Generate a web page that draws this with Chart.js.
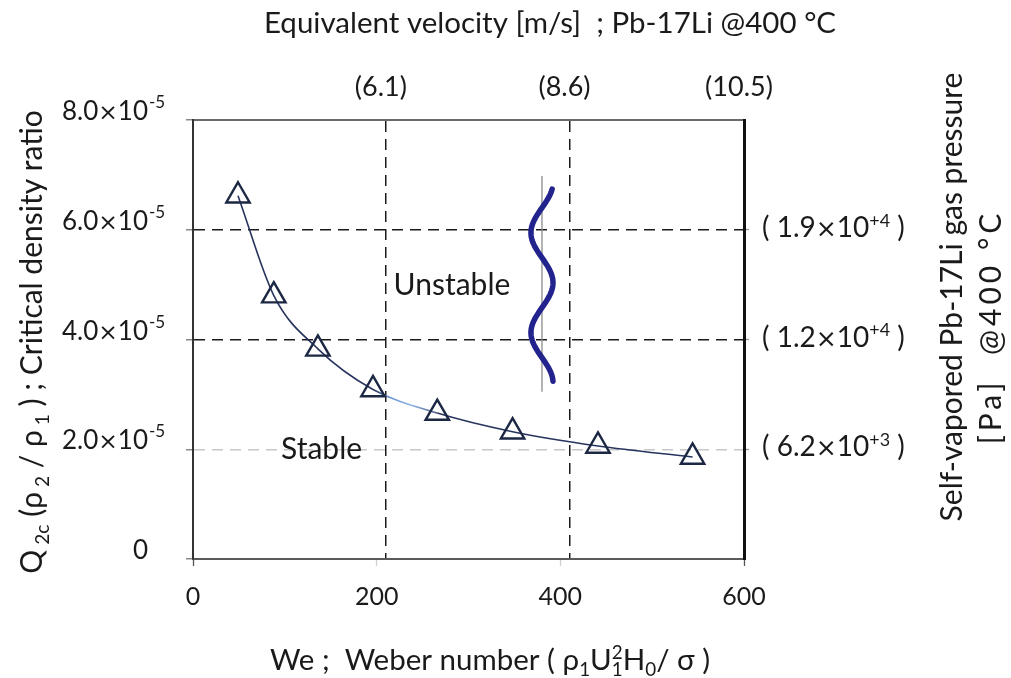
<!DOCTYPE html>
<html><head><meta charset="utf-8">
<script src="https://cdn.jsdelivr.net/npm/chart.js@4.4.0/dist/chart.umd.min.js"></script>
<style>html,body{margin:0;padding:0;background:#fff;overflow:hidden}#wrap{width:1011px;height:678px;position:relative}</style>
</head><body><div id="wrap"><canvas id="c" width="1011" height="678"></canvas></div>
<script>
// ---- data ----
const weberNumber = [49, 88, 136, 196, 266, 348, 441, 544];
const criticalDensityRatio = [6.62e-5, 4.80e-5, 3.83e-5, 3.09e-5, 2.66e-5, 2.32e-5, 2.06e-5, 1.86e-5];
const xTicks = [0, 200, 400, 600];
const yTicks = [0, 2e-5, 4e-5, 6e-5, 8e-5];
const yTickMantissa = ['0', '2.0', '4.0', '6.0', '8.0'];
const yTickExponent = ['', '-5', '-5', '-5', '-5'];
const velocityWe = [210, 410, 600];
const velocityLabels = ['(6.1)', '(8.6)', '(10.5)'];
const pressureQ = [2e-5, 4e-5, 6e-5];
const pressureMantissa = ['6.2', '1.2', '1.9'];
const pressureExponent = ['+3', '+4', '+4'];
const regionLabels = ['Unstable', 'Stable'];
const regionWe = [282, 140];
const regionQ = [4.98e-5, 2.0e-5];
// wavy interface icon (in data units)
const waveWe = 380, waveAmpWe = 12, waveTopQ = 6.74e-5, waveBottomQ = 3.23e-5, wavePeriodQ = 1.82e-5, wavePhaseQ = 6.40e-5;
const rodTopQ = 6.98e-5, rodBottomQ = 3.05e-5;

const FAM = 'Lato, "Open Sans", sans-serif';
const SYM = '"DejaVu Sans", sans-serif';
const NAVY = '#27345e';
const fnt = (s, fam) => `${s}px ${fam || FAM}`;

function drawSegs(ctx, segs, x, y, size, align) {
  const small = size * 0.64;
  let total = 0;
  const fontOf = s => fnt((s.k ? small : size) * (s.scale || 1), s.fam);
  const widths = segs.map(s => {
    ctx.font = fontOf(s);
    const w = s.stay ? 0 : ctx.measureText(s.t).width;
    total += w; return w;
  });
  let cx = align === 'center' ? x - total / 2 : align === 'right' ? x - total : x;
  ctx.textAlign = 'left';
  ctx.textBaseline = 'alphabetic';
  segs.forEach((s, i) => {
    ctx.font = fontOf(s);
    const dy = s.k === 'sup' ? -size * 0.36 : s.k === 'sub' ? size * 0.22 : 0;
    ctx.fillText(s.t, cx, y + dy);
    cx += widths[i];
  });
}

const near = (a, b) => Math.abs(a - b) < 1e-9;
const TIMES = {t: '×', fam: SYM, scale: 0.9};

const textPlugin = {
  id: 'texts',
  afterDatasetsDraw(chart) {
    const ctx = chart.ctx;
    const xs = chart.scales.x, ys = chart.scales.y;
    ctx.save();
    // wave icon
    const cx = xs.getPixelForValue(waveWe);
    ctx.strokeStyle = '#8a8a8a'; ctx.lineWidth = 1.3;
    ctx.beginPath();
    ctx.moveTo(cx, ys.getPixelForValue(rodTopQ));
    ctx.lineTo(cx, ys.getPixelForValue(rodBottomQ));
    ctx.stroke();
    const amp = xs.getPixelForValue(waveWe + waveAmpWe) - cx;
    ctx.strokeStyle = '#22238c'; ctx.lineWidth = 5.5; ctx.lineCap = 'round';
    ctx.beginPath();
    const y0 = ys.getPixelForValue(waveTopQ), y1 = ys.getPixelForValue(waveBottomQ);
    for (let py = y0; py <= y1; py += 1) {
      const q = ys.getValueForPixel(py);
      const px = cx - amp * Math.sin(2 * Math.PI * (wavePhaseQ - q) / wavePeriodQ);
      if (py === y0) ctx.moveTo(px, py); else ctx.lineTo(px, py);
    }
    ctx.stroke();
    // region labels
    ctx.fillStyle = '#1a1a1a';
    regionLabels.forEach((t, i) => {
      ctx.font = fnt(30); ctx.textAlign = 'center'; ctx.textBaseline = 'middle';
      ctx.fillText(t, xs.getPixelForValue(regionWe[i]), ys.getPixelForValue(regionQ[i]));
    });
    ctx.restore();
  },
  afterDraw(chart) {
    const ctx = chart.ctx;
    const ys = chart.scales.y;
    ctx.save();
    ctx.fillStyle = '#1a1a1a';
    // left tick labels
    yTicks.forEach((v, i) => {
      const py = ys.getPixelForValue(v);
      if (yTickExponent[i]) {
        drawSegs(ctx, [{t: yTickMantissa[i]}, TIMES, {t: '10'}], 148, py, 26, 'right');
        ctx.font = fnt(17); ctx.textAlign = 'left'; ctx.fillText(yTickExponent[i], 149, py - 12);
      } else {
        drawSegs(ctx, [{t: yTickMantissa[i]}], 148, py, 26, 'right');
      }
    });
    // right tick labels
    pressureQ.forEach((v, i) => {
      const py = ys.getPixelForValue(v) + 7;
      drawSegs(ctx, [{t: '( ' + pressureMantissa[i]}, TIMES, {t: '10'}, {t: pressureExponent[i], k: 'sup'}, {t: ' )'}], 762, py, 28, 'left');
    });
    // top title
    drawSegs(ctx, [{t: 'Equivalent velocity [m/s]  ; Pb-17Li @400 °C'}], 550, 33, 29.5, 'center');
    // bottom title
    drawSegs(ctx, [{t: 'We ;  Weber number ( '}, {t: 'ρ'}, {t: '1', k: 'sub'}, {t: 'U'}, {t: '1', k: 'sub', stay: true}, {t: '2', k: 'sup'}, {t: 'H'}, {t: '0', k: 'sub'}, {t: '/ '}, {t: 'σ'}, {t: ' )'}], 490, 670, 29.5, 'center');
    // left title
    ctx.save(); ctx.translate(42, 342); ctx.rotate(-Math.PI / 2);
    drawSegs(ctx, [{t: 'Q'}, {t: ' 2c', k: 'sub'}, {t: ' ('}, {t: 'ρ'}, {t: ' 2', k: 'sub'}, {t: ' / '}, {t: 'ρ'}, {t: ' 1', k: 'sub'}, {t: ' ) ; Critical density ratio'}], 0, 0, 30, 'center');
    ctx.restore();
    // right title
    ctx.save(); ctx.translate(962, 297); ctx.rotate(-Math.PI / 2);
    drawSegs(ctx, [{t: 'Self-vapored Pb-17Li gas pressure'}], 0, 0, 30, 'center');
    ctx.restore();
    ctx.save(); ctx.translate(1001, 327); ctx.rotate(-Math.PI / 2);
    ctx.letterSpacing = '4px';
    drawSegs(ctx, [{t: '[Pa]  @400 °C'}], 0, 0, 30, 'center');
    ctx.letterSpacing = '0px';
    ctx.restore();
    ctx.restore();
  }
};

function segGradient(chart) {
  const xs = chart.scales.x;
  const a = xs.getPixelForValue(weberNumber[3]), b = xs.getPixelForValue(weberNumber[4]);
  const g = chart.ctx.createLinearGradient(a, 0, b, 0);
  g.addColorStop(0, NAVY); g.addColorStop(0.3, '#6f9bd6'); g.addColorStop(0.6, '#8fb4e3'); g.addColorStop(1, '#4a5a8a');
  return g;
}

const dashGrid = ctx => ctx.type === 'tick' ? [11, 7] : [];

new Chart(document.getElementById('c'), {
  type: 'line',
  data: {
    datasets: [{
      data: weberNumber.map((w, i) => ({x: w, y: criticalDensityRatio[i]})),
      borderColor: NAVY, borderWidth: 1.6,
      cubicInterpolationMode: 'monotone',
      pointStyle: 'triangle', pointRadius: 13.5, pointHoverRadius: 13.5,
      pointBorderColor: '#1c2744', pointBorderWidth: 2.4, pointBackgroundColor: 'rgba(0,0,0,0)',
      segment: { borderColor: c => c.p0DataIndex === 3 ? segGradient(c.chart) : undefined },
      clip: false
    }]
  },
  options: {
    responsive: false, animation: false, devicePixelRatio: 1,
    layout: { padding: 0 },
    plugins: { legend: { display: false }, tooltip: { enabled: false } },
    scales: {
      x: {
        type: 'linear', position: 'bottom', min: 0, max: 600,
        afterBuildTicks: s => { s.ticks = xTicks.map(v => ({value: v})); },
        afterFit: s => { s.height = 119; },
        ticks: { font: { family: FAM, size: 25 }, color: '#1a1a1a', padding: 16, maxRotation: 0 },
        grid: { drawOnChartArea: false, tickLength: 7, tickWidth: 1.3,
          tickColor: c => (c.tick && (c.tick.value === 200 || c.tick.value === 400)) ? '#cfcfcf' : '#555' },
        border: { color: '#5a5a5a', width: 2 }
      },
      x2: {
        type: 'linear', position: 'top', min: 0, max: 600,
        afterBuildTicks: s => { s.ticks = velocityWe.map(v => ({value: v})); },
        afterFit: s => { s.height = 120; },
        ticks: { callback: (v, i) => velocityLabels[i], font: { family: FAM, size: 27 }, color: '#1a1a1a', padding: 17, maxRotation: 0, labelOffset: -5 },
        grid: { drawTicks: false, lineWidth: 1.5,
          color: c => (c.tick && c.tick.value === 600) ? 'rgba(0,0,0,0)' : '#1a1a1a' },
        border: { color: '#6a6a6a', width: 2, dash: dashGrid }
      },
      y: {
        type: 'linear', position: 'left', min: 0, max: 8e-5,
        afterBuildTicks: s => { s.ticks = yTicks.map(v => ({value: v})); },
        afterFit: s => { s.width = 193; },
        ticks: { display: false },
        grid: { lineWidth: 1.5, tickLength: 7, tickColor: '#888',
          color: c => {
            const v = c.tick ? c.tick.value : 0;
            if (near(v, 2e-5)) return '#c8c8c8';
            if (near(v, 4e-5) || near(v, 6e-5)) return '#1a1a1a';
            return 'rgba(0,0,0,0)';
          } },
        border: { color: '#333', width: 2, dash: dashGrid }
      },
      y2: {
        type: 'linear', position: 'right', min: 0, max: 8e-5,
        afterBuildTicks: s => { s.ticks = pressureQ.map(v => ({value: v})); },
        afterFit: s => { s.width = 267; },
        ticks: { display: false },
        grid: { drawOnChartArea: false, tickLength: 5, tickColor: '#999', tickWidth: 1.3 },
        border: { color: '#111', width: 3 }
      }
    }
  },
  plugins: [textPlugin]
});
</script>
</body></html>
